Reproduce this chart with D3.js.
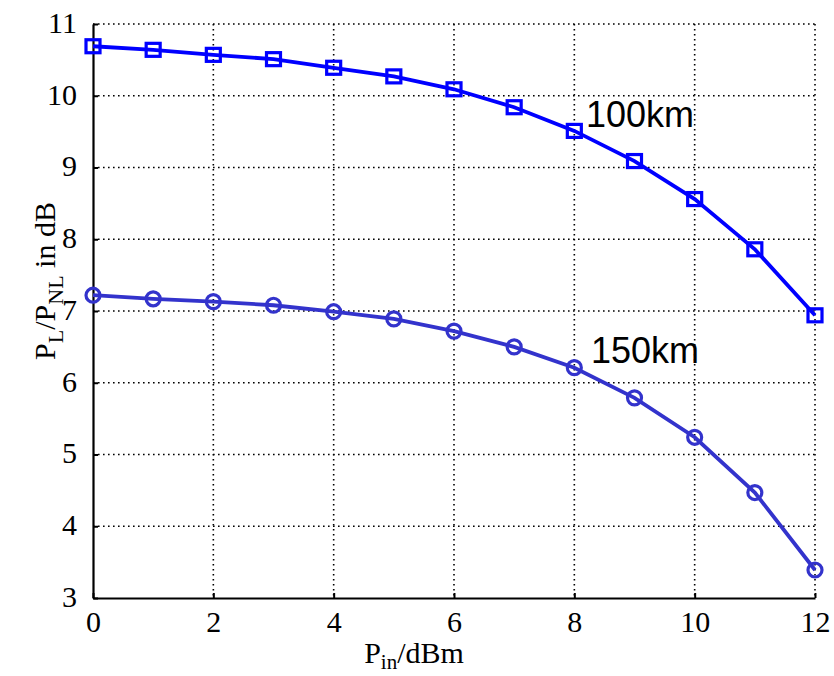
<!DOCTYPE html>
<html>
<head>
<meta charset="utf-8">
<script src="https://cdn.jsdelivr.net/npm/d3@7"></script>
<style>
  body { margin: 0; background: #fff; }
  svg { display: block; }
  .tick text { font-family: "Liberation Serif", "Times New Roman", serif; font-size: 30px; fill: #000; }
</style>
</head>
<body>
<div id="chart"></div>
<script>
// input power in dBm
var pin = [0, 1, 2, 3, 4, 5, 6, 7, 8, 9, 10, 11, 12];
// P_L/P_NL in dB for each span length
var span100 = [10.69, 10.64, 10.57, 10.51, 10.39, 10.27, 10.09, 9.84, 9.51, 9.09, 8.56, 7.86, 6.94];
var span150 = [7.22, 7.17, 7.13, 7.08, 6.99, 6.89, 6.72, 6.50, 6.21, 5.79, 5.24, 4.47, 3.39];
var xTicks = [0, 2, 4, 6, 8, 10, 12];
var yTicks = [3, 4, 5, 6, 7, 8, 9, 10, 11];

var W = 834, H = 676;
var margin = { top: 24, right: 19, bottom: 78, left: 93 };
var width = W - margin.left - margin.right,
	height = H - margin.top - margin.bottom;

var svg = d3.select("#chart").append("svg")
	.attr("width", W)
	.attr("height", H);

var g = svg.append("g")
	.attr("transform", "translate(" + margin.left + "," + margin.top + ")");

var x = d3.scaleLinear().domain([0, 12]).range([0, width]);
var y = d3.scaleLinear().domain([3, 11]).range([height, 0]);

// dotted grid
g.append("g")
	.selectAll("line")
	.data(xTicks.filter(function(d) { return d > 0; }))
	.enter().append("line")
	.attr("x1", function(d) { return x(d); })
	.attr("x2", function(d) { return x(d); })
	.attr("y1", 0).attr("y2", height)
	.attr("stroke", "#000").attr("stroke-width", 1.6)
	.attr("stroke-dasharray", "1.6,3.4");
g.append("g")
	.selectAll("line")
	.data(yTicks.filter(function(d) { return d > 3; }))
	.enter().append("line")
	.attr("y1", function(d) { return y(d); })
	.attr("y2", function(d) { return y(d); })
	.attr("x1", 0).attr("x2", width)
	.attr("stroke", "#000").attr("stroke-width", 1.6)
	.attr("stroke-dasharray", "1.6,3.4");

// axes, ticks pointing inward
var xAxis = d3.axisBottom(x).tickValues(xTicks).tickSizeInner(-5).tickSizeOuter(0).tickPadding(13);
var yAxis = d3.axisLeft(y).tickValues(yTicks).tickSizeInner(-5).tickSizeOuter(0).tickPadding(16);

var gx = g.append("g")
	.attr("transform", "translate(0," + height + ")")
	.call(xAxis);
var gy = g.append("g").call(yAxis);

[gx, gy].forEach(function(a) {
	a.select(".domain").attr("stroke", "#000").attr("stroke-width", 2.2);
	a.selectAll(".tick line").attr("stroke", "#000").attr("stroke-width", 2);
});
gy.selectAll(".tick text").attr("dy", "0.28em");
gx.selectAll(".tick text").attr("dy", "0.7em");

var line = d3.line()
	.x(function(d, i) { return x(pin[i]); })
	.y(function(d) { return y(d); });

// 100 km curve with squares
g.append("path")
	.datum(span100)
	.attr("d", line)
	.attr("fill", "none")
	.attr("stroke", "#0000ff")
	.attr("stroke-width", 3.8);
g.append("g")
	.selectAll("rect")
	.data(span100)
	.enter().append("rect")
	.attr("x", function(d, i) { return x(pin[i]) - 7; })
	.attr("y", function(d) { return y(d) - 6.5; })
	.attr("width", 14).attr("height", 13)
	.attr("fill", "none")
	.attr("stroke", "#0000ff")
	.attr("stroke-width", 3.2);

// 150 km curve with circles
g.append("path")
	.datum(span150)
	.attr("d", line)
	.attr("fill", "none")
	.attr("stroke", "#3333cc")
	.attr("stroke-width", 3.8);
g.append("g")
	.selectAll("circle")
	.data(span150)
	.enter().append("circle")
	.attr("cx", function(d, i) { return x(pin[i]); })
	.attr("cy", function(d) { return y(d); })
	.attr("r", 7)
	.attr("fill", "none")
	.attr("stroke", "#3333cc")
	.attr("stroke-width", 3.2);

// curve labels
svg.append("text")
	.attr("x", 586).attr("y", 127)
	.style("font-family", "'Liberation Sans', Arial, sans-serif")
	.style("font-size", "36px")
	.text("100km");
svg.append("text")
	.attr("x", 591).attr("y", 363)
	.style("font-family", "'Liberation Sans', Arial, sans-serif")
	.style("font-size", "36px")
	.text("150km");

// axis titles
var xt = svg.append("text")
	.attr("x", 414).attr("y", 663)
	.attr("text-anchor", "middle")
	.style("font-family", "'Liberation Serif', 'Times New Roman', serif")
	.style("font-size", "30px");
xt.append("tspan").text("P");
xt.append("tspan").attr("dy", 6).style("font-size", "21px").text("in");
xt.append("tspan").attr("dy", -6).text("/dBm");

var yt = svg.append("text")
	.attr("transform", "translate(55,281) rotate(-90)")
	.attr("text-anchor", "middle")
	.style("font-family", "'Liberation Serif', 'Times New Roman', serif")
	.style("font-size", "30px");
yt.append("tspan").text("P");
yt.append("tspan").attr("dy", 8).style("font-size", "22px").text("L");
yt.append("tspan").attr("dy", -8).text("/P");
yt.append("tspan").attr("dy", 8).style("font-size", "22px").text("NL");
yt.append("tspan").attr("dy", -8).text(" in dB");
</script>
</body>
</html>
